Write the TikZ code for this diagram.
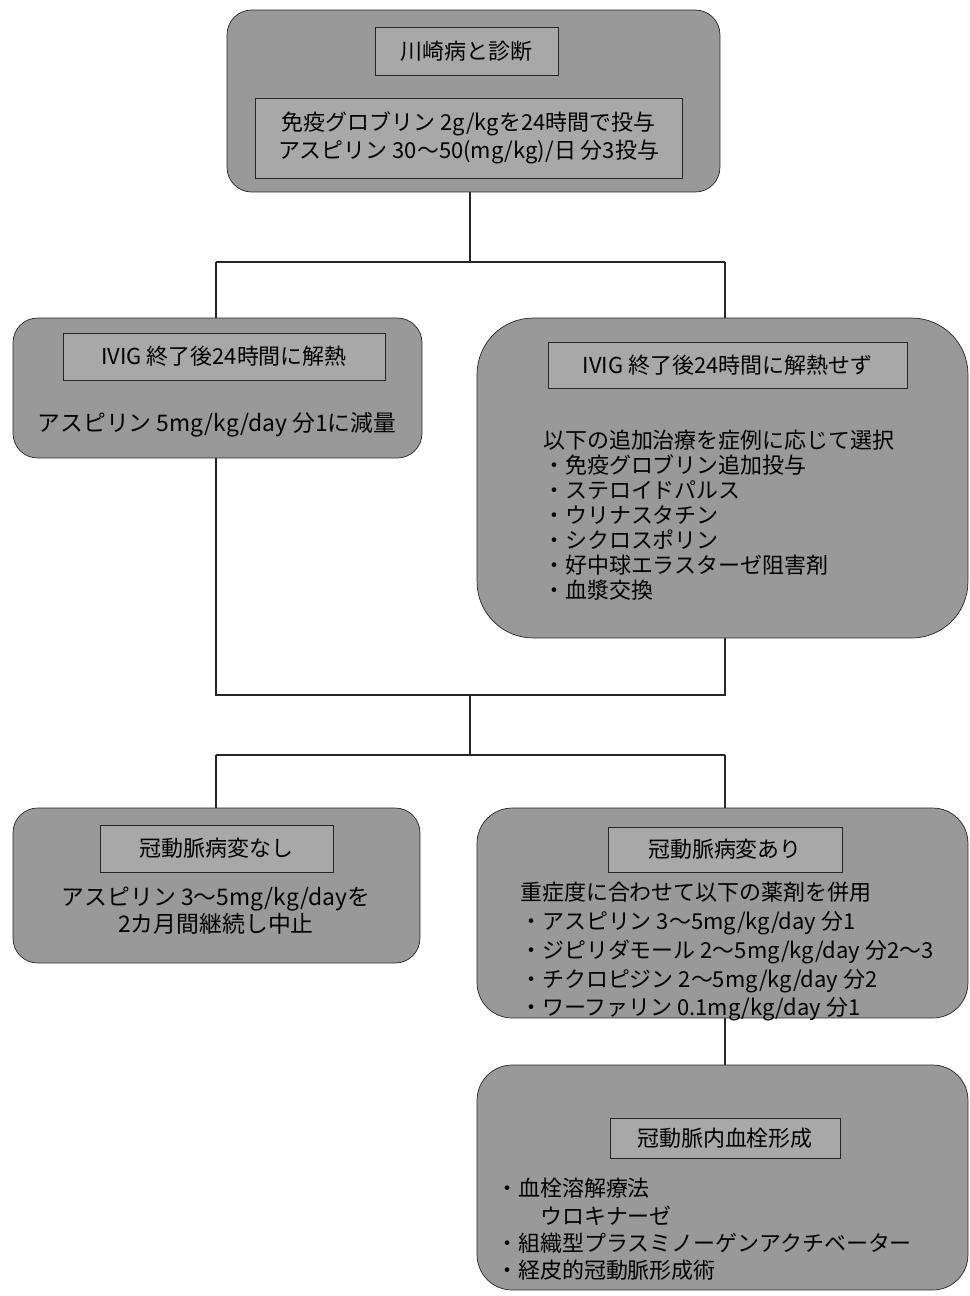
\documentclass[tikz,border=0pt]{standalone}
\usepackage{fontspec}
\newfontfamily\jpfont{Noto Sans CJK JP}
\usetikzlibrary{positioning}

\begin{document}
\begin{tikzpicture}[x=0.02cm, y=-0.02cm,
    flowbox/.style={draw=black!85, fill=black!40, rounded corners=14pt},
    titlebox/.style={draw=black!85, fill=black!34, inner sep=0pt, font=\jpfont\fontsize{12.5}{15}\selectfont},
    bodytext/.style={font=\jpfont\fontsize{12.5}{14.5}\selectfont},
    link/.style={draw=black!85, line width=0.6pt}
]
    \useasboundingbox (0,0) rectangle (970,1296);

    % Diagnosis
    \node[flowbox, minimum width=9.86cm, minimum height=3.64cm] (diag) at (473.5,101) {};
    \node[titlebox, minimum width=3.66cm, minimum height=0.96cm] (diagtitle) at (466.5,51) {川崎病と診断};
    \node[titlebox, minimum width=8.54cm, minimum height=1.6cm, align=center, font=\jpfont\fontsize{12.5}{16}\selectfont] (diagbody) at (468.5,138)
        {免疫グロブリン 2g/kgを24時間で投与\\アスピリン 30〜50(mg/kg)/日 分3投与};

    % Fever down
    \node[flowbox, minimum width=8.18cm, minimum height=2.8cm] (afeb) at (217.5,388) {};
    \node[titlebox, minimum width=6.44cm, minimum height=0.94cm] (afebtitle) at (224,356.5) {IVIG 終了後24時間に解熱};
    \node[bodytext, font=\jpfont\fontsize{13}{15}\selectfont] (afebbody) at (217,425) {アスピリン 5mg/kg/day 分1に減量};

    % Fever persists
    \node[flowbox, rounded corners=32pt, minimum width=9.82cm, minimum height=6.4cm] (feb) at (722.5,478) {};
    \node[titlebox, minimum width=7.18cm, minimum height=0.92cm] (febtitle) at (727.5,365) {IVIG 終了後24時間に解熱せず};
    \node[bodytext, align=left, anchor=north west, font=\jpfont\fontsize{12.5}{14.2}\selectfont] (febbody) at (515,424)
        {　以下の追加治療を症例に応じて選択\\
         　・免疫グロブリン追加投与\\
         　・ステロイドパルス\\
         　・ウリナスタチン\\
         　・シクロスポリン\\
         　・好中球エラスターゼ阻害剤\\
         　・血漿交換};

    % No coronary lesion
    \node[flowbox, minimum width=8.14cm, minimum height=3.1cm] (nocal) at (216.5,885.5) {};
    \node[titlebox, minimum width=4.66cm, minimum height=0.94cm] (nocaltitle) at (216.5,848.5) {冠動脈病変なし};
    \node[bodytext, align=center, font=\jpfont\fontsize{13}{15.5}\selectfont] (nocalbody) at (216,911)
        {アスピリン 3〜5mg/kg/dayを\\2カ月間継続し中止};

    % Coronary lesion
    \node[flowbox, rounded corners=20pt, minimum width=9.82cm, minimum height=4.2cm] (cal) at (722.5,913) {};
    \node[titlebox, minimum width=4.68cm, minimum height=0.9cm] (caltitle) at (725,849.5) {冠動脈病変あり};
    \node[bodytext, align=left, anchor=north west, font=\jpfont\fontsize{12.5}{16.4}\selectfont] (calbody) at (492,876)
        {　重症度に合わせて以下の薬剤を併用\\
         　・アスピリン 3〜5mg/kg/day 分1\\
         　・ジピリダモール 2〜5mg/kg/day 分2〜3\\
         　・チクロピジン 2〜5mg/kg/day 分2\\
         　・ワーファリン 0.1mg/kg/day 分1};

    % Thrombus
    \node[flowbox, rounded corners=20pt, minimum width=9.82cm, minimum height=4.5cm] (thr) at (722.5,1177.5) {};
    \node[titlebox, minimum width=4.6cm, minimum height=0.8cm] (thrtitle) at (725,1138) {冠動脈内血栓形成};
    \node[bodytext, align=left, anchor=north west, font=\jpfont\fontsize{12.5}{15.6}\selectfont] (thrbody) at (490,1172)
        {・血栓溶解療法\\
         　　ウロキナーゼ\\
         ・組織型プラスミノーゲンアクチベーター\\
         ・経皮的冠動脈形成術};

    % Connectors
    \coordinate (split) at (470,262);
    \coordinate (splitl) at (216,262);
    \coordinate (splitr) at (725,262);
    \coordinate (joinl) at (216,695);
    \coordinate (joinr) at (725,695);
    \coordinate (join) at (470,695);
    \coordinate (fork) at (470,755);
    \coordinate (forkl) at (216,755);
    \coordinate (forkr) at (725,755);

    \draw[link] (diag.south -| split) -- (split);
    \draw[link] (splitl) -- (splitr);
    \draw[link] (splitl) -- (afeb.north -| splitl);
    \draw[link] (splitr) -- (feb.north -| splitr);
    \draw[link] (afeb.south -| joinl) -- (joinl) -- (joinr) -- (feb.south -| joinr);
    \draw[link] (join) -- (fork);
    \draw[link] (forkl) -- (forkr);
    \draw[link] (forkl) -- (nocal.north -| forkl);
    \draw[link] (forkr) -- (cal.north -| forkr);
    \draw[link] (cal.south -| forkr) -- (thr.north -| forkr);
\end{tikzpicture}
\end{document}
